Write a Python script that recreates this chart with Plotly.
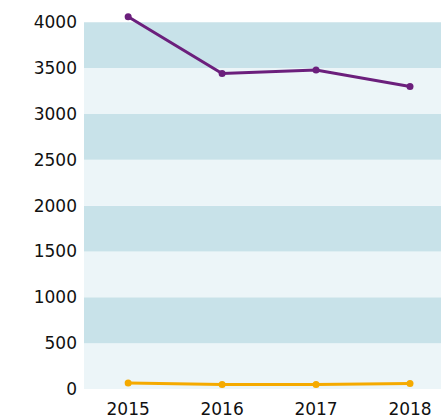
import plotly.graph_objects as go

years = ["2015", "2016", "2017", "2018"]
series_purple = [4060, 3440, 3480, 3300]
series_orange = [65, 50, 50, 60]
y_ticks = [0, 500, 1000, 1500, 2000, 2500, 3000, 3500, 4000]

fig = go.Figure()

# alternating background bands
band_dark = "#c8e2e9"
band_light = "#ecf5f8"
shapes = []
for i in range(len(y_ticks) - 1):
    shapes.append(dict(
        type="rect", xref="paper", yref="y", x0=0, x1=1,
        y0=y_ticks[i], y1=y_ticks[i + 1],
        fillcolor=band_light if i % 2 == 0 else band_dark,
        line=dict(width=0), layer="below",
    ))

fig.add_trace(go.Scatter(
    x=years, y=series_purple, mode="lines+markers",
    line=dict(color="#6b1f7c", width=3), marker=dict(size=7, color="#6b1f7c"),
    cliponaxis=False, showlegend=False,
))
fig.add_trace(go.Scatter(
    x=years, y=series_orange, mode="lines+markers",
    line=dict(color="#f5aa00", width=3), marker=dict(size=7, color="#f5aa00"),
    cliponaxis=False, showlegend=False,
))

fig.update_layout(
    width=441, height=420,
    margin=dict(l=84, r=0, t=14, b=31),
    paper_bgcolor="white", plot_bgcolor="white",
    shapes=shapes,
    font=dict(family="DejaVu Sans", size=17, color="#111111"),
    xaxis=dict(
        type="category", range=[-0.47, 3.33],
        showgrid=False, zeroline=False, showline=False,
        ticks="", ticklabelstandoff=8, tickfont=dict(size=17),
    ),
    yaxis=dict(
        range=[0, 4090], tickvals=y_ticks,
        showgrid=False, zeroline=False, showline=False,
        ticks="", ticklabelstandoff=6, tickfont=dict(size=17),
    ),
)

fig.write_html(
    "out.html",
    config={"displayModeBar": False},
    post_script="document.body.style.margin='0';document.body.style.overflow='hidden';",
)
